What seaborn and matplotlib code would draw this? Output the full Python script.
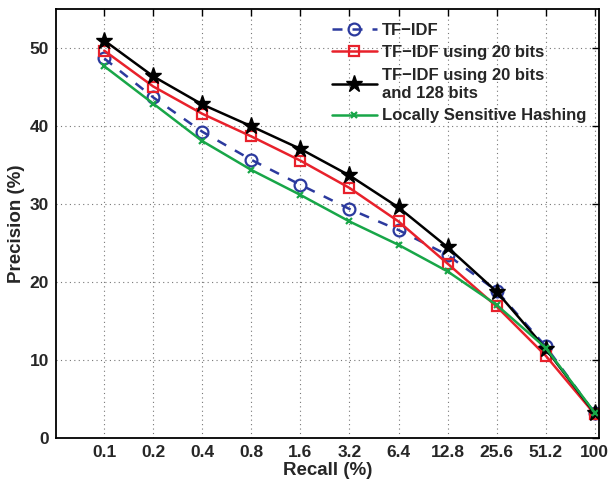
import matplotlib
matplotlib.use("Agg")
import matplotlib.pyplot as plt
import seaborn as sns
import pandas as pd

recall = ["0.1", "0.2", "0.4", "0.8", "1.6", "3.2", "6.4", "12.8", "25.6", "51.2", "100"]
tfidf = [48.7, 43.7, 39.3, 35.7, 32.5, 29.4, 26.7, 23.5, 18.9, 11.8, 3.2]
tfidf20 = [49.7, 45.1, 41.6, 38.7, 35.6, 32.1, 27.8, 22.4, 16.9, 10.6, 3.1]
tfidf20_128 = [51.0, 46.4, 42.8, 40.0, 37.1, 33.7, 29.6, 24.5, 18.8, 11.5, 3.2]
lsh = [47.7, 42.9, 38.1, 34.4, 31.2, 27.8, 24.8, 21.4, 17.1, 11.6, 3.3]
labels = ["TF\u2212IDF", "TF\u2212IDF using 20 bits", "TF\u2212IDF using 20 bits\nand 128 bits",
          "Locally Sensitive Hashing"]
yticks = [0, 10, 20, 30, 40, 50]

sns.set_style("white")
plt.rcParams['font.family'] = ['Liberation Sans', 'DejaVu Sans']
plt.rcParams['font.weight'] = 'bold'

fig = plt.figure(figsize=(6.08, 4.83), dpi=100)
ax = fig.add_axes([55.7/608, 1-438.3/483, (599.3-55.7)/608, (438.3-9.3)/483])

pos = list(range(len(recall)))
styles = [
    dict(data=tfidf, color="#2c3a9e", ls=(0, (4, 4)), marker="o", ms=8.5, mfc="none", mew=1.6, lw=1.8),
    dict(data=tfidf20, color="#e8212b", ls="-", marker="s", ms=7.5, mfc="none", mew=1.6, lw=1.8),
    dict(data=tfidf20_128, color="black", ls="-", marker="*", ms=12.5, mfc="black", mew=1.0, lw=1.8),
    dict(data=lsh, color="#18a648", ls="-", marker="x", ms=5, mfc="none", mew=1.6, lw=1.8),
]
for lab, st in zip(labels, styles):
    df = pd.DataFrame({"x": pos, "y": st["data"]})
    sns.lineplot(data=df, x="x", y="y", ax=ax, color=st["color"], linestyle=st["ls"],
                 marker=st["marker"], markersize=st["ms"], markerfacecolor=st["mfc"],
                 markeredgecolor=st["color"], markeredgewidth=st["mew"], linewidth=st["lw"],
                 label=lab)

ax.set_xlim(-0.99, 10.094)
ax.set_ylim(0, 55)
ax.set_xticks(pos)
ax.set_xticklabels(recall)
ax.set_yticks(yticks)
ax.tick_params(axis='both', direction='in', length=5, width=1.0, top=True, right=True,
               labelsize=12.5, pad=5, color='black')
for t in ax.get_xticklabels() + ax.get_yticklabels():
    t.set_fontweight('bold')
ax.grid(True, color='#777777', linestyle=(0, (1, 3)), linewidth=0.8)
for s in ax.spines.values():
    s.set_visible(True)
    s.set_color('black')
    s.set_linewidth(1.3)
ax.set_xlabel("Recall (%)", fontsize=13.5, fontweight='bold', labelpad=1)
ax.set_ylabel("Precision (%)", fontsize=13.5, fontweight='bold', labelpad=3)

leg = ax.legend(loc='upper right', frameon=False, fontsize=12, handlelength=2.7,
                borderaxespad=0.4, labelspacing=0.45, handletextpad=0.3,
                bbox_to_anchor=(1.0, 1.0))
for t in leg.get_texts():
    t.set_fontweight('bold')
    t.set_linespacing(1.28)

fig.savefig("out.png", dpi=100)
